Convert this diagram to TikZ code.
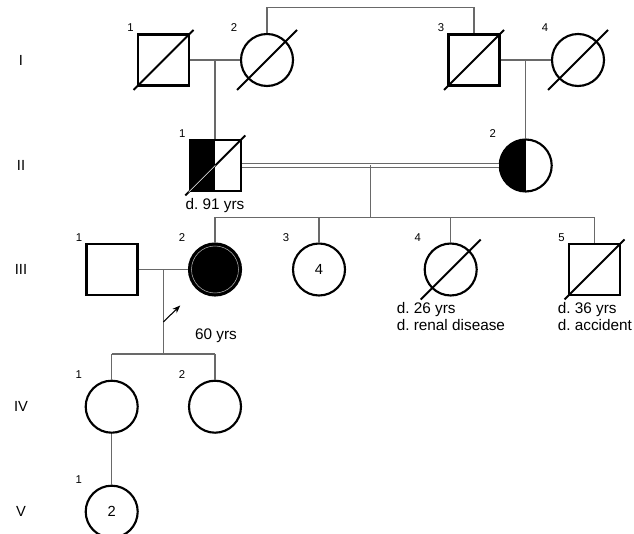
\documentclass[tikz,border=0pt]{standalone}
\usepackage{fontspec}
\setmainfont{Liberation Sans}
\frenchspacing
\usetikzlibrary{arrows.meta,calc}
\definecolor{kingray}{RGB}{105,105,105}
\tikzset{
  male/.style={draw,rectangle,line width=1.6pt,minimum size=38.3pt,
    inner sep=0pt,font=\fontsize{11}{13}\selectfont},
  female/.style={draw,circle,line width=1.6pt,minimum size=39pt,
    inner sep=0pt,font=\fontsize{11}{13}\selectfont},
  affected/.style={fill=black},
  carrier/.style={path picture={\fill[black] (path picture bounding box.south west)
    rectangle (path picture bounding box.north);}},
  kin/.style={draw=kingray,line width=0.8pt},
  deathline/.style={line width=1.4pt},
  pointer/.style={-{Stealth[length=6pt,width=4.5pt]},line width=0.8pt},
  idnum/.style={font=\fontsize{8.5}{10}\selectfont,inner sep=0pt},
  gen/.style={font=\fontsize{11}{13}\selectfont,inner sep=0pt},
  note/.style={font=\fontsize{11.5}{12.5}\selectfont,align=left,inner sep=0pt}
}
\newcommand{\deceased}[1]{\draw[deathline] ($(#1)+(-30,30)$) -- ($(#1)+(30,-30)$);}

\begin{document}
\begin{tikzpicture}[x=0.75pt,y=-0.75pt]
\useasboundingbox (0,0) rectangle (634,534);
% generations
\foreach \g/\y in {I/60,II/165.5,III/269.5,IV/406.7,V/511.7}
  \node[gen] (gen-\g) at (21,\y) {\g};
% generation I
\node[male] (i1) at (163.5,60) {};
\node[female] (i2) at (267,60) {};
\node[male] (i3) at (474,60) {};
\node[female] (i4) at (578,60) {};
% generation II
\node[male,carrier] (ii1) at (215.3,165.5) {};
\node[female,carrier] (ii2) at (525.7,165.5) {};
% generation III
\node[male] (iii1) at (112,269.5) {};
\node[female,affected] (iii2) at (215,269.5) {};
\node[female] (iii3) at (319,269.5) {4};
\node[female] (iii4) at (450.7,269.5) {};
\node[male] (iii5) at (594.5,269.5) {};
% generation IV and V
\node[female] (iv1) at (111.7,406.7) {};
\node[female] (iv2) at (215,406.7) {};
\node[female] (v1) at (111.7,511.7) {2};
% individual numbers
\foreach \n/\t in {i1/1,i2/2,i3/3,i4/4,ii1/1,ii2/2,iii1/1,iii2/2,iii3/3,
    iii4/4,iii5/5,iv1/1,iv2/2,v1/1}
  \node[idnum] (num-\n) at ($(\n)+(-33,-32)$) {\t};
% deceased
\deceased{i1}
\deceased{i2}
\deceased{i3}
\deceased{i4}
\deceased{ii1}
\deceased{iii4}
\deceased{iii5}
\begin{scope}
  \clip (ii1.south west) rectangle (ii1.north);
  \draw[white,line width=0.4pt] ($(ii1)+(-30,30)$) -- ($(ii1)+(30,-30)$);
\end{scope}
\draw[gray!60,line width=0.4pt] (iii2) circle (23.5);
% couples and descent
\draw[kin] (i2.north) -- ++(0,-25) -| (i3.north);
\draw[kin] (i1) -- (i2);
\draw[kin] (i3) -- (i4);
\coordinate (m1) at ($(i1.east)!0.5!(i2.west)$);
\coordinate (m2) at ($(i3.east)!0.5!(i4.west)$);
\draw[kin] (m1) -- (m1 |- ii1.north);
\draw[kin] (m2) -- (m2 |- ii2.north);
\draw[kin,double=white,double distance=1.8pt] (ii1) -- (ii2);
\coordinate (m3) at ($(ii1.east)!0.5!(ii2.west)$);
\coordinate (s3) at (370,217.5);
\draw[kin] (m3) -- (m3 |- s3);
\draw[kin] (s3 -| iii2) -- (s3 -| iii5);
\foreach \c in {iii2,iii3,iii4,iii5}
  \draw[kin] (s3 -| \c) -- (\c.north);
\draw[kin] (iii1) -- (iii2);
\coordinate (m4) at ($(iii1.east)!0.5!(iii2.west)$);
\coordinate (s4) at (163,354);
\draw[kin] (m4) -- (m4 |- s4);
\draw[kin] (s4 -| iv1) -- (s4 -| iv2);
\foreach \c in {iv1,iv2}
  \draw[kin] (s4 -| \c) -- (\c.north);
\draw[kin] (iv1.south) -- (v1.north);
% proband arrow
\coordinate (arrtail) at ($(m4)+(0,52.5)$);
\coordinate (arrhead) at ($(arrtail)+(17,-16.5)$);
\draw[pointer] (arrtail) -- (arrhead);
% notes
\node[note] (age-iii2) at (216,336) {60 yrs};
\node[note] (death-ii1) at (215,206) {d. 91 yrs};
\node[note,anchor=north west] (death-iii4) at (396.5,302) {d. 26 yrs\\d. renal disease};
\node[note,anchor=north west] (death-iii5) at (557.5,302) {d. 36 yrs\\d. accident};
\end{tikzpicture}
\end{document}
